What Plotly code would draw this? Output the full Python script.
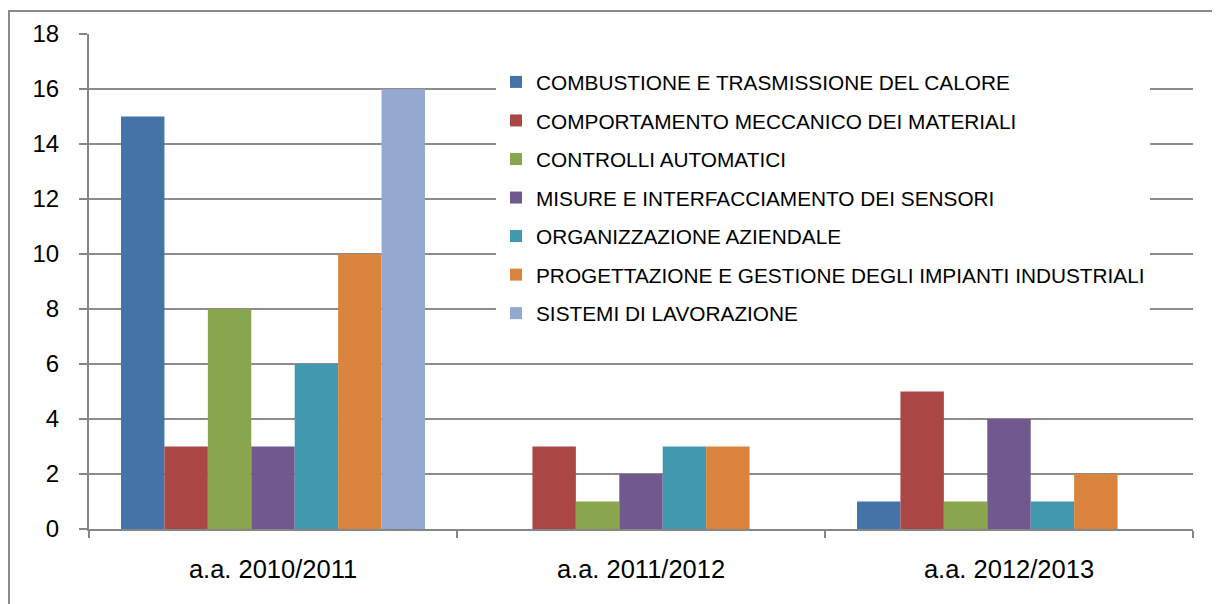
import plotly.graph_objects as go

categories = ["a.a. 2010/2011", "a.a. 2011/2012", "a.a. 2012/2013"]
series_names = [
    "COMBUSTIONE E TRASMISSIONE DEL CALORE",
    "COMPORTAMENTO MECCANICO DEI MATERIALI",
    "CONTROLLI AUTOMATICI",
    "MISURE E INTERFACCIAMENTO DEI SENSORI",
    "ORGANIZZAZIONE AZIENDALE",
    "PROGETTAZIONE E GESTIONE DEGLI IMPIANTI INDUSTRIALI",
    "SISTEMI DI LAVORAZIONE",
]
combustione = [15, 0, 1]
comportamento = [3, 3, 5]
controlli = [8, 1, 1]
misure = [3, 2, 4]
organizzazione = [6, 3, 1]
progettazione = [10, 3, 2]
sistemi = [16, 0, 0]
series_values = [combustione, comportamento, controlli, misure,
                 organizzazione, progettazione, sistemi]
colors = ["#4572A7", "#AA4643", "#89A54E", "#71588F", "#4198AF", "#DB843D", "#93A9D0"]
y_ticks = [0, 2, 4, 6, 8, 10, 12, 14, 16, 18]

FONT = "Arial, 'Liberation Sans', sans-serif"

fig = go.Figure()
for name, vals, col in zip(series_names, series_values, colors):
    fig.add_trace(go.Bar(
        x=categories, y=vals, name=name, legendgroup=name,
        marker=dict(color=col, line=dict(width=0)),
    ))

W, H = 1220, 604
L, R, T, B = 81, 35, 24, 83
pw, ph = W - L - R, H - T - B

def px_x(p):
    return (p - L) / pw

def px_y(p):
    return (H - B - p) / ph

fig.update_layout(
    width=W, height=H,
    margin=dict(l=L, r=R, t=T, b=B),
    paper_bgcolor="white", plot_bgcolor="white",
    barmode="group", bargap=0.174, bargroupgap=0,
    font=dict(family=FONT, color="black"),
    showlegend=True,
    legend=dict(
        x=px_x(488), y=px_y(52), xanchor="left", yanchor="top",
        bgcolor="white", borderwidth=0,
        font=dict(size=20.8, family=FONT, color="black"),
        tracegroupgap=8.5,
        traceorder="grouped",
    ),
    xaxis=dict(
        showline=True, linecolor="#868686", linewidth=2,
        ticks="outside", ticklen=7, tickwidth=2, tickcolor="#868686",
        tickson="boundaries",
        tickfont=dict(size=25.5, family=FONT, color="black"),
        ticklabelstandoff=16,
        showgrid=False,
    ),
    yaxis=dict(
        range=[0, 18], tickvals=y_ticks,
        showline=True, linecolor="#868686", linewidth=2,
        ticks="outside", ticklen=8, tickwidth=2, tickcolor="#868686",
        tickfont=dict(size=24, family=FONT, color="black"),
        ticklabelstandoff=15,
        showgrid=True, gridcolor="#8c8c8c", gridwidth=1.5,
        zeroline=False,
    ),
    shapes=[dict(
        type="rect", xref="paper", yref="paper",
        x0=px_x(1), x1=px_x(1240), y0=px_y(640), y1=px_y(1),
        line=dict(color="#8a8a8a", width=2), fillcolor="rgba(0,0,0,0)",
        layer="above",
    )],
)

fig.write_html("out.html")
